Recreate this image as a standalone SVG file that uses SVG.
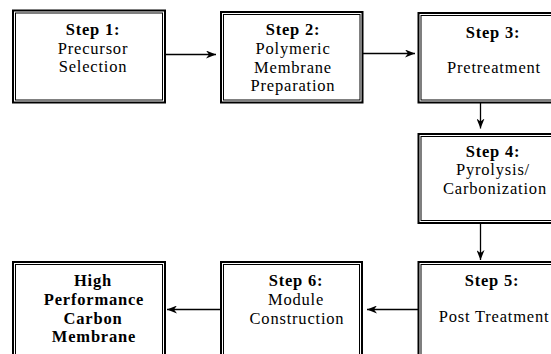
<svg xmlns="http://www.w3.org/2000/svg" width="551" height="354" viewBox="0 0 551 354">
<style>
.outer{fill:#fff;stroke:#000;stroke-width:2}
.inner{fill:none;stroke:#000;stroke-width:1}
.t{font-family:'Liberation Serif','Times New Roman',serif;font-size:16.5px;letter-spacing:0.8px;text-anchor:middle;fill:#000}
.b{font-weight:bold}
.conn{stroke:#000;stroke-width:1.3;fill:none;marker-end:url(#ah)}
</style>
<defs>
<marker id="ah" viewBox="0 0 10 8" refX="10" refY="4" markerWidth="10" markerHeight="8" markerUnits="userSpaceOnUse" orient="auto">
<path d="M0,0 L10,4 L0,8 L3,4 Z" fill="#000"/>
</marker>
</defs>
<rect width="551" height="354" fill="#fff"/>
<g id="connectors">
<line class="conn" x1="166" y1="54.5" x2="216" y2="54.5"/>
<line class="conn" x1="363" y1="53.5" x2="415" y2="53.5"/>
<line class="conn" x1="480.5" y1="103" x2="480.5" y2="128.5"/>
<line class="conn" x1="480.5" y1="223" x2="480.5" y2="260"/>
<line class="conn" x1="418" y1="309.5" x2="367" y2="309.5"/>
<line class="conn" x1="220" y1="309.5" x2="167" y2="309.5"/>
</g>
<g id="step1">
<rect class="outer" x="13" y="10.5" width="152" height="92"/>
<rect class="inner" x="15.5" y="13" width="147" height="87"/>
<text class="t b" x="93" y="35">Step 1:</text>
<text class="t" x="93" y="53.5">Precursor</text>
<text class="t" x="93" y="72">Selection</text>
</g>
<g id="step2">
<rect class="outer" x="221" y="12" width="141.5" height="90.5"/>
<rect class="inner" x="223.5" y="14.5" width="136.5" height="85.5"/>
<text class="t b" x="293" y="35">Step 2:</text>
<text class="t" x="293" y="54">Polymeric</text>
<text class="t" x="293" y="72.5">Membrane</text>
<text class="t" x="293" y="91">Preparation</text>
</g>
<g id="step3">
<rect class="outer" x="418.5" y="13" width="160" height="89.5"/>
<rect class="inner" x="421" y="15.5" width="155" height="84.5"/>
<text class="t b" x="493" y="38">Step 3:</text>
<text class="t" x="494" y="73">Pretreatment</text>
</g>
<g id="step4">
<rect class="outer" x="418.5" y="134" width="160" height="89"/>
<rect class="inner" x="421" y="136.5" width="155" height="84"/>
<text class="t b" x="493" y="157">Step 4:</text>
<text class="t" x="493" y="175">Pyrolysis/</text>
<text class="t" x="495" y="194">Carbonization</text>
</g>
<g id="step5">
<rect class="outer" x="418.5" y="262" width="160" height="120"/>
<rect class="inner" x="421" y="264.5" width="155" height="115"/>
<text class="t b" x="492" y="286">Step 5:</text>
<text class="t" x="494" y="322">Post Treatment</text>
</g>
<g id="step6">
<rect class="outer" x="221" y="262" width="141" height="120"/>
<rect class="inner" x="223.5" y="264.5" width="136" height="115"/>
<text class="t b" x="296" y="286">Step 6:</text>
<text class="t" x="296" y="305">Module</text>
<text class="t" x="297" y="323.5">Construction</text>
</g>
<g id="result">
<rect class="outer" x="13" y="262" width="152" height="120"/>
<rect class="inner" x="15.5" y="264.5" width="147" height="115"/>
<text class="t b" x="93" y="286">High</text>
<text class="t b" x="94" y="305">Performance</text>
<text class="t b" x="93" y="323.5">Carbon</text>
<text class="t b" x="94" y="342">Membrane</text>
</g>
</svg>
